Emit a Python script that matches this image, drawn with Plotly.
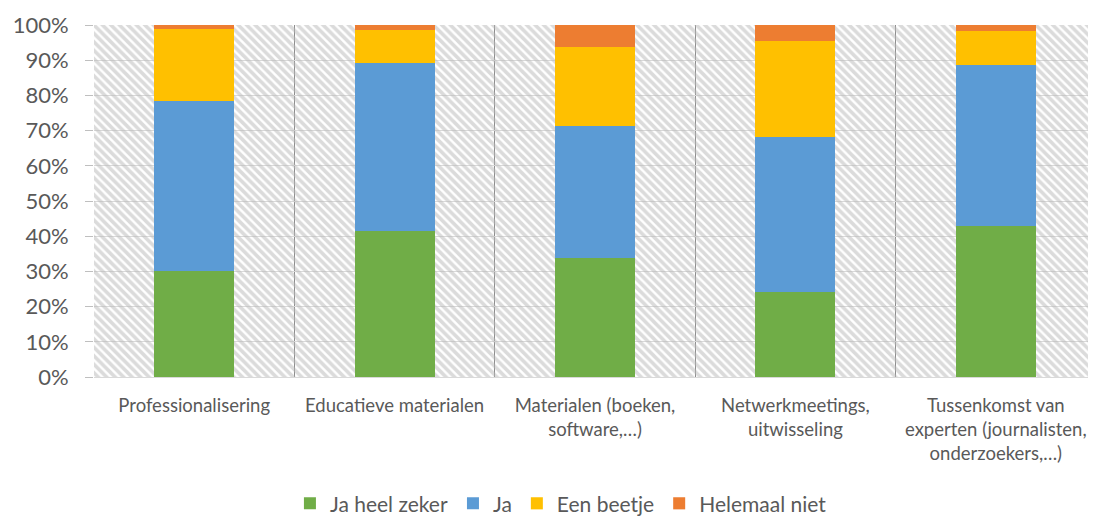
import plotly.graph_objects as go

categories = [
    "Professionalisering",
    "Educatieve materialen",
    "Materialen (boeken,<br>software,…)",
    "Netwerkmeetings,<br>uitwisseling",
    "Tussenkomst van<br>experten (journalisten,<br>onderzoekers,…)",
]
series_names = ["Ja heel zeker", "Ja", "Een beetje", "Helemaal niet"]
ja_heel_zeker = [0.300, 0.415, 0.338, 0.241, 0.429]
ja = [0.485, 0.477, 0.375, 0.441, 0.457]
een_beetje = [0.203, 0.094, 0.225, 0.273, 0.097]
helemaal_niet = [0.012, 0.014, 0.062, 0.045, 0.017]
colors = ["#70AD47", "#5B9BD5", "#FFC000", "#ED7D31"]
y_ticks = [0, 0.1, 0.2, 0.3, 0.4, 0.5, 0.6, 0.7, 0.8, 0.9, 1.0]
y_labels = [f"{int(round(v*100))}%" for v in y_ticks]
background_full = [1.0] * len(categories)

FONT = "Lato"
TXT = "#595959"

fig = go.Figure()

# hatched plot-area background, drawn on the base axes
fig.add_trace(go.Bar(
    x=categories, y=background_full, width=1.0, showlegend=False, hoverinfo="skip",
    marker=dict(color="rgba(0,0,0,0)", line=dict(width=0),
                pattern=dict(shape="\\", fgcolor="#b8b8b8", bgcolor="rgba(0,0,0,0)",
                             size=6, solidity=0.6)),
    xaxis="x", yaxis="y",
))

for name, vals, col in zip(series_names, [ja_heel_zeker, ja, een_beetje, helemaal_niet], colors):
    fig.add_trace(go.Bar(
        x=categories, y=vals, name=name, width=0.4,
        marker=dict(color=col, line=dict(width=0)),
        xaxis="x2", yaxis="y2",
    ))

fig.update_layout(
    width=1088, height=510,
    margin=dict(l=86, r=0, t=17, b=141, autoexpand=False),
    paper_bgcolor="white", plot_bgcolor="white",
    barmode="stack", bargap=0,
    font=dict(family=FONT, color=TXT),
    xaxis=dict(
        type="category", range=[-0.5, 4.5], tickson="boundaries", automargin=False,
        showgrid=True, gridcolor="#8c8c8c", gridwidth=1,
        showline=True, linecolor="#d9d9d9", linewidth=1,
        ticks="", tickfont=dict(size=18.5, color=TXT, family=FONT),
        ticklabelstandoff=12,
    ),
    yaxis=dict(
        range=[0, 1], tickvals=y_ticks, ticktext=y_labels, automargin=False,
        showgrid=True, gridcolor="#d9d9d9", zeroline=False,
        ticks="outside", ticklen=8, tickcolor="#bfbfbf",
        showline=False, tickfont=dict(size=22, color=TXT, family=FONT),
        ticklabelstandoff=12,
    ),
    xaxis2=dict(type="category", overlaying="x", range=[-0.5, 4.5], automargin=False,
                showticklabels=False, showgrid=False, showline=False, ticks=""),
    yaxis2=dict(overlaying="y", range=[0, 1], showticklabels=False, automargin=False,
                showgrid=False, zeroline=False, showline=False, ticks=""),
    legend=dict(orientation="h", x=0.466, xanchor="center", y=-0.36, yanchor="middle",
                font=dict(size=21, color=TXT, family=FONT), itemwidth=30,
                traceorder="normal", tracegroupgap=0),
)

fig.write_html("out.html")
